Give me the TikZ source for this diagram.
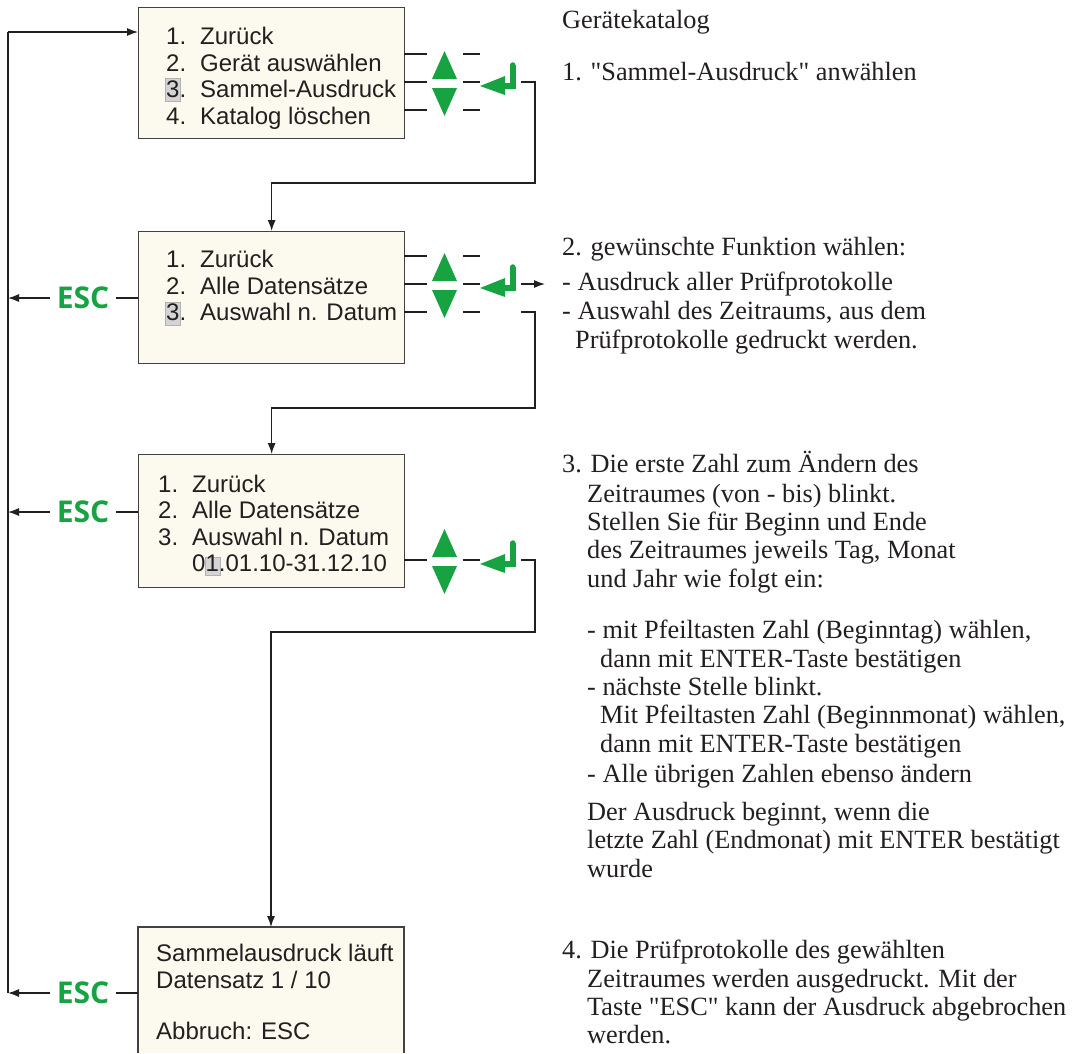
\documentclass[tikz,border=0pt]{standalone}
\usepackage{fontspec}
\setmainfont{Liberation Serif}[Ligatures=TeXOff]
\newfontfamily\boxfont{Liberation Sans}
\newfontfamily\escfont{Open Sans}
\usetikzlibrary{arrows.meta}
\definecolor{keygreen}{RGB}{24,163,66}
\definecolor{boxfill}{RGB}{252,250,238}
\definecolor{ink}{RGB}{35,31,32}
\definecolor{hl}{RGB}{212,212,212}
\newcommand\enterkey[2]{%
  \fill[keyfill] (#1,#2+4) -- (#1+25,#2-6) -- (#1+25,#2+13) -- cycle;
  \fill[keyfill] (#1+24,#2+1) rectangle (#1+35.5,#2+6.5);
  \fill[keyfill] (#1+30,#2-17) rectangle (#1+35.5,#2+6.5);
  \fill[keyfill] (#1+32.75,#2-17) circle (2.75);
}
\newcommand\updownkeys[2]{%
  \fill[keyfill] (#1,#2-31) -- (#1+12.5,#2-3) -- (#1-12.5,#2-3) -- cycle;
  \fill[keyfill] (#1-12.5,#2+6) -- (#1+12.5,#2+6) -- (#1,#2+34) -- cycle;
}
\begin{document}
\begin{tikzpicture}[x=1pt,y=-1pt,
  menubox/.style={draw=ink!85, line width=1.3pt, fill=boxfill, anchor=north west, minimum width=266pt, inner sep=0pt},
  boxtxt/.style={anchor=base west, inner sep=0pt, font=\boxfont\fontsize{24}{26}\selectfont, text=ink},
  note/.style={anchor=base west, inner sep=0pt, font=\fontsize{26.3}{28}\selectfont, text=ink},
  esckey/.style={font=\escfont\bfseries\fontsize{30}{32}\selectfont, text=keygreen, minimum width=66pt, inner sep=0pt},
  conn/.style={draw=ink, line width=1.2pt},
  arr/.style={conn, -{Latex[length=11pt,width=8pt]}},
  hlbox/.style={fill=hl, draw=gray!60, line width=0.5pt},
  keyfill/.style={fill=keygreen}]
\useasboundingbox (0,0) rectangle (1075,1053);

% boxes
\node[menubox, minimum height=131pt] (b1) at (138,7) {};
\node[menubox, minimum height=132pt] (b2) at (138,231) {};
\node[menubox, minimum height=133pt] (b3) at (138,454) {};
\fill[boxfill] (138,927) rectangle (404,1053);
\draw[draw=ink!85, line width=1.3pt] (138,1053) -- (138,927) -- (404,927) -- (404,1053);
\coordinate (b4n) at (271,927);
\coordinate (b4w) at (138,993);

% highlights
\draw[hlbox] (165,78) rectangle (180,101);
\draw[hlbox] (165,302) rectangle (180,325);
\draw[hlbox] (205,557) rectangle (220,575);

% box texts
\node[boxtxt] (b1n1) at (166,44) {1.};  \node[boxtxt] (b1t1) at (200,44) {Zurück};
\node[boxtxt] (b1n2) at (166,71) {2.};  \node[boxtxt] (b1t2) at (200,71) {Gerät auswählen};
\node[boxtxt] (b1n3) at (166,97) {3.};  \node[boxtxt] (b1t3) at (200,97) {Sammel-Ausdruck};
\node[boxtxt] (b1n4) at (166,124) {4.}; \node[boxtxt] (b1t4) at (200,124) {Katalog löschen};

\node[boxtxt] (b2n1) at (166,267) {1.}; \node[boxtxt] (b2t1) at (200,267) {Zurück};
\node[boxtxt] (b2n2) at (166,294) {2.}; \node[boxtxt] (b2t2) at (200,294) {Alle Datensätze};
\node[boxtxt] (b2n3) at (166,320) {3.}; \node[boxtxt] (b2t3) at (200,320) {Auswahl n. Datum};

\node[boxtxt] (b3n1) at (158,492) {1.}; \node[boxtxt] (b3t1) at (192,492) {Zurück};
\node[boxtxt] (b3n2) at (158,518) {2.}; \node[boxtxt] (b3t2) at (192,518) {Alle Datensätze};
\node[boxtxt] (b3n3) at (158,545) {3.}; \node[boxtxt] (b3t3) at (192,545) {Auswahl n. Datum};
\node[boxtxt] (b3t4) at (192,571) {01.01.10-31.12.10};

\node[boxtxt] (b4t1) at (156,961) {Sammelausdruck läuft};
\node[boxtxt] (b4t2) at (156,988) {Datensatz 1 / 10};
\node[boxtxt] (b4t3) at (156,1039) {Abbruch: ESC};

% left return line
\coordinate (lt) at (8,32);
\coordinate (lb) at (8,993);
\draw[conn] (lb) -- (lt);
\draw[arr] (lt) -- (b1.west |- lt);

% ESC keys
\node[esckey] (esc2) at (83,298) {ESC};
\node[esckey] (esc3) at (83,512) {ESC};
\node[esckey] (esc4) at (83,993) {ESC};
\draw[conn] (b2.west |- esc2) -- (esc2.east);
\draw[arr] (esc2.west) -- (lt |- esc2);
\draw[conn] (b3.west |- esc3) -- (esc3.east);
\draw[arr] (esc3.west) -- (lt |- esc3);
\draw[conn] (b4w) -- (esc4.east);
\draw[arr] (esc4.west) -- (lb);

% box 1 keys
\foreach \yy in {54,82,110} {
  \draw[conn] (404,\yy) -- (427,\yy);
  \draw[conn] (463,\yy) -- (480,\yy);
}
\updownkeys{444.5}{82}
\enterkey{480}{82}
\coordinate (e1) at (521,82);
\draw[arr] (e1) -- (535,82) -- (535,183) -| (b2.north);

% box 2 keys
\foreach \yy in {256,284,312} {
  \draw[conn] (404,\yy) -- (427,\yy);
  \draw[conn] (463,\yy) -- (480,\yy);
}
\updownkeys{444.5}{284}
\enterkey{480}{284}
\coordinate (e2) at (521,284);
\coordinate (e2b) at (521,312);

% box 3 keys
\draw[conn] (404,560) -- (427,560);
\draw[conn] (463,560) -- (480,560);
\updownkeys{444.5}{560}
\enterkey{480}{560}
\coordinate (e3) at (521,560);
\draw[arr] (e3) -- (535,560) -- (535,632) -| (b4n);

% notes
\node[note] (n0) at (562,28) {Gerätekatalog};
\node[note] (n1) at (562,80) {1. "Sammel-Ausdruck" anwählen};
\node[note] (n2) at (562,255) {2. gewünschte Funktion wählen:};
\node[note] (n2a) at (562,290) {- Ausdruck aller Prüfprotokolle};
\node[note] (n2b) at (562,319) {- Auswahl des Zeitraums, aus dem};
\node[note] (n2c) at (575,348) {Prüfprotokolle gedruckt werden.};
\node[note] (n3) at (562,472) {3. Die erste Zahl zum Ändern des};
\node[note] (n3a) at (587,502) {Zeitraumes (von - bis) blinkt.};
\node[note] (n3b) at (587,530) {Stellen Sie für Beginn und Ende};
\node[note] (n3c) at (587,558) {des Zeitraumes jeweils Tag, Monat};
\node[note] (n3d) at (587,587) {und Jahr wie folgt ein:};
\node[note] (n3e) at (587,638) {- mit Pfeiltasten Zahl (Beginntag) wählen,};
\node[note] (n3f) at (600,667) {dann mit ENTER-Taste bestätigen};
\node[note] (n3g) at (587,695) {- nächste Stelle blinkt.};
\node[note] (n3h) at (600,723) {Mit Pfeiltasten Zahl (Beginnmonat) wählen,};
\node[note] (n3i) at (600,752) {dann mit ENTER-Taste bestätigen};
\node[note] (n3j) at (587,782) {- Alle übrigen Zahlen ebenso ändern};
\node[note] (n3k) at (587,820) {Der Ausdruck beginnt, wenn die};
\node[note] (n3l) at (587,848) {letzte Zahl (Endmonat) mit ENTER bestätigt};
\node[note] (n3m) at (587,877) {wurde};
\node[note] (n4) at (562,958) {4. Die Prüfprotokolle des gewählten};
\node[note] (n4a) at (587,987) {Zeitraumes werden ausgedruckt. Mit der};
\node[note] (n4b) at (587,1015) {Taste "ESC" kann der Ausdruck abgebrochen};
\node[note] (n4c) at (587,1043) {werden.};

% box 2 exits
\draw[arr] (e2) -- (545,284);
\draw[arr] (e2b) -- (535,312) -- (535,408) -| (b3.north);
\end{tikzpicture}
\end{document}
